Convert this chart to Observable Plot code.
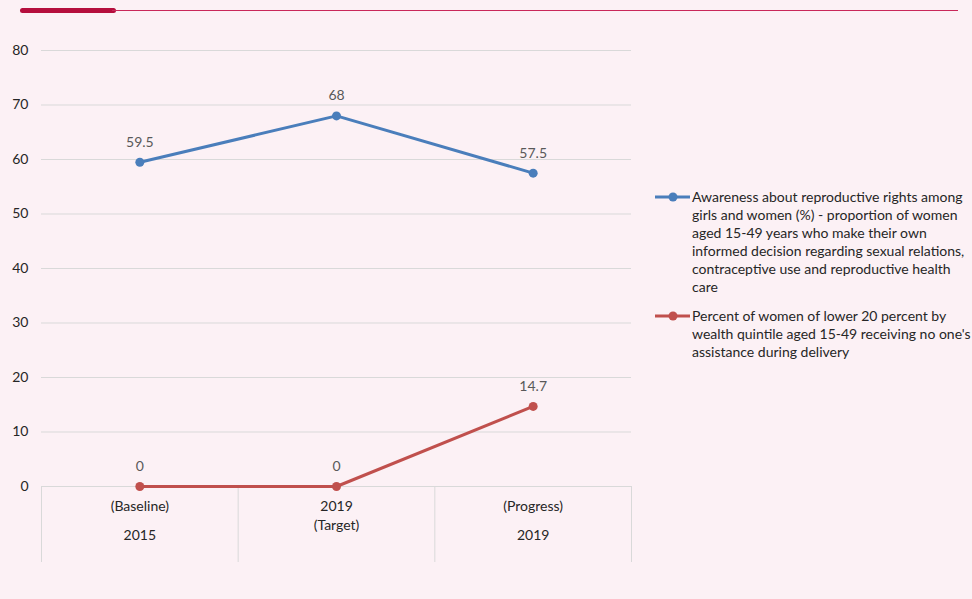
<!DOCTYPE html>
<html>
<head>
<meta charset="utf-8">
<script src="https://cdn.jsdelivr.net/npm/d3@7"></script>
<script src="https://cdn.jsdelivr.net/npm/@observablehq/plot@0.6"></script>
<style>
  html, body { margin: 0; padding: 0; background: #fcf1f5; }
  #chart { position: relative; width: 972px; height: 599px; overflow: hidden; font-family: Lato, "Open Sans", sans-serif; }
  #chart svg { position: absolute; left: 0; top: 0; }
  .bar-thick { position: absolute; left: 20px; top: 8px; width: 96px; height: 5px; border-radius: 3px; background: #b50e3d; }
  .bar-thin { position: absolute; left: 112px; top: 10px; width: 846px; height: 1px; background: #c9285a; }
  .legend { position: absolute; left: 655px; top: 188px; width: 317px; }
  .legend-item { display: flex; align-items: flex-start; margin-bottom: 11px; }
  .legend-item svg { position: static !important; flex: none; }
  .legend-text { width: 282px; font-size: 14px; line-height: 18px; color: #262626; }
</style>
</head>
<body>
<div id="chart">
  <div class="bar-thick"></div>
  <div class="bar-thin"></div>
</div>
<script>
// Category labels along the bottom (two lines each)
const categoryLine1 = ["(Baseline)", "2019", "(Progress)"];
const categoryLine2 = ["2015", "(Target)", "2019"];

// Series
const seriesNames = [
  "Awareness about reproductive rights among girls and women (%) - proportion of women aged 15-49 years who make their own informed decision regarding sexual relations, contraceptive use and reproductive health care",
  "Percent of women of lower 20 percent by wealth quintile aged 15-49 receiving no one's assistance during delivery"
];
const seriesColors = ["#4a7ebb", "#c0504d"];
const awarenessValues = [59.5, 68, 57.5];
const noAssistanceValues = [0, 0, 14.7];

// Y axis ticks
const yTicks = [0, 10, 20, 30, 40, 50, 60, 70, 80];

const seriesValues = [awarenessValues, noAssistanceValues];
const rows = seriesValues.flatMap((vals, s) =>
  vals.map((v, i) => ({ series: seriesNames[s], pos: i + 0.5, value: v }))
);
const cats = categoryLine1.map((l, i) => ({ pos: i + 0.5, line1: l, line2: categoryLine2[i] }));
const bounds = d3.range(categoryLine1.length + 1);

const plot = Plot.plot({
  width: 972,
  height: 599,
  marginLeft: 41,
  marginRight: 341,
  marginTop: 50,
  marginBottom: 113,
  style: { background: "transparent", fontFamily: "Lato, 'Open Sans', sans-serif", fontSize: "14px", color: "#262626" },
  x: { domain: [0, categoryLine1.length], axis: null },
  y: { domain: [0, 80], axis: null },
  color: { domain: seriesNames, range: seriesColors },
  marks: [
    Plot.gridY(yTicks, { stroke: "#d9d9d9", strokeOpacity: 1, strokeWidth: 1 }),
    Plot.axisY(yTicks, { tickSize: 0, tickPadding: 13, label: null, fontSize: 14, fill: "#262626" }),
    Plot.axisX(bounds, { tickSize: 76, tickFormat: () => "", label: null, stroke: "#d9d9d9", strokeOpacity: 1 }),
    Plot.text(cats, { x: "pos", y: 0, text: "line1", dy: 20, fill: "#262626", fontSize: 14 }),
    Plot.text(cats, { x: "pos", y: 0, text: "line2", fill: "#262626", fontSize: 14, filter: (d, i) => i !== 1, dy: 49 }),
    Plot.text(cats, { x: "pos", y: 0, text: "line2", fill: "#262626", fontSize: 14, filter: (d, i) => i === 1, dy: 39 }),
    Plot.lineY(rows, { x: "pos", y: "value", z: "series", stroke: "series", strokeWidth: 3 }),
    Plot.dot(rows, { x: "pos", y: "value", fill: "series", r: 4.5 }),
    Plot.text(rows, { x: "pos", y: "value", text: d => String(d.value), dy: -20, fill: "#595959", fontSize: 14 })
  ]
});
document.getElementById("chart").appendChild(plot);

// Legend on the right
const legend = document.createElement("div");
legend.className = "legend";
seriesNames.forEach((name, i) => {
  const item = document.createElement("div");
  item.className = "legend-item";
  const sw = d3.create("svg").attr("width", 37).attr("height", 18);
  sw.append("line").attr("x1", 0).attr("x2", 35).attr("y1", 9).attr("y2", 9)
    .attr("stroke", seriesColors[i]).attr("stroke-width", 3);
  sw.append("circle").attr("cx", 18).attr("cy", 9).attr("r", 4.5).attr("fill", seriesColors[i]);
  item.appendChild(sw.node());
  const t = document.createElement("div");
  t.className = "legend-text";
  t.textContent = name;
  item.appendChild(t);
  legend.appendChild(item);
});
document.getElementById("chart").appendChild(legend);
</script>
</body>
</html>
